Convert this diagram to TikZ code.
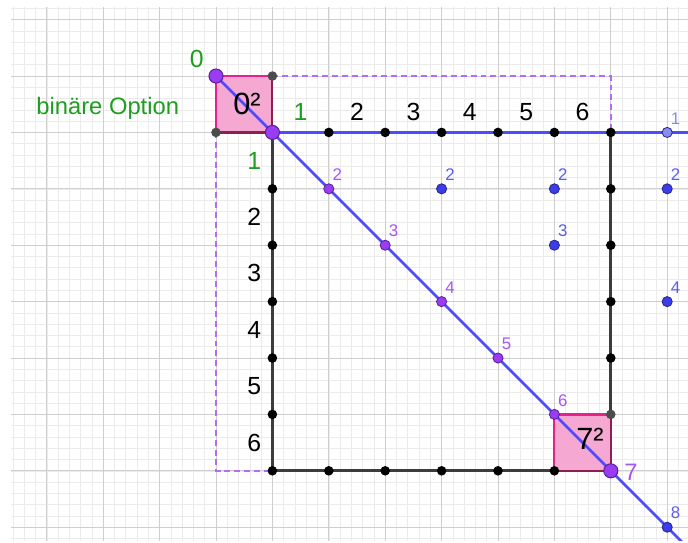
\documentclass[tikz,border=0pt]{standalone}
\usepackage{fontspec}
\setmainfont{Liberation Sans}
\usetikzlibrary{positioning, calc}
\definecolor{ggpurple}{HTML}{9A3CF2}
\definecolor{ggpurpled}{HTML}{5A1E96}
\definecolor{gglabel}{HTML}{A855F7}
\definecolor{ggblue}{HTML}{4B4BFF}
\definecolor{ggbluept}{HTML}{3C3CE8}
\definecolor{ggbluelbl}{HTML}{5C5CF2}
\definecolor{gglav}{HTML}{8A8AF0}
\definecolor{gggreen}{HTML}{1E9E1E}
\definecolor{sqfill}{HTML}{F5A8D2}
\definecolor{sqlight}{HTML}{E8208C}
\definecolor{sqdark}{HTML}{8C2050}
\definecolor{gridmaj}{HTML}{CFCFCF}
\definecolor{gridmin}{HTML}{EBEBEB}
\definecolor{linegray}{HTML}{3C3C3C}
\tikzset{
  % Punkte
  bigpt/.style={circle, draw=ggpurpled, fill=ggpurple, line width=0.5pt,
    minimum size=0.25cm, inner sep=0pt},
  diagpt/.style={circle, draw=ggpurpled, fill=ggpurple, line width=0.4pt,
    minimum size=0.18cm, inner sep=0pt},
  bluept/.style={circle, draw=ggbluept!60!black, fill=ggbluept, line width=0.4pt,
    minimum size=0.18cm, inner sep=0pt},
  lavpt/.style={bluept, fill=gglav},
  blackpt/.style={circle, fill=black, minimum size=0.17cm, inner sep=0pt},
  graypt/.style={blackpt, fill=black!70},
  % Linien
  blueline/.style={line width=1.4pt, ggblue},
  blackline/.style={line width=1.4pt, linegray},
  dashline/.style={line width=0.8pt, ggpurple!75, dashed, dash pattern=on 3pt off 2pt},
  sqedge/.style={line width=1.1pt, sqlight},
  sqedgedark/.style={line width=1.1pt, sqdark},
  % Beschriftungen
  numlbl/.style={font=\fontsize{12.5}{14}\selectfont},
  grnlbl/.style={numlbl, text=gggreen},
  sqlbl/.style={font=\fontsize{15.5}{17}\selectfont},
  ptlbl/.style={font=\fontsize{8.5}{9}\selectfont, text=gglabel, xshift=0.15cm, yshift=0.25cm},
  bluelbl/.style={ptlbl, text=ggbluelbl},
}

\begin{document}
\begin{tikzpicture}
  \useasboundingbox (-3.83,1.348) rectangle (8.369,-8.28);
  % Gitter
  \begin{scope}
    \clip (-3.635,1.223) rectangle (8.369,-8.227);
    \draw[gridmin, line width=0.3pt, step=0.2] (-4,-9) grid (9,2);
    \draw[gridmaj, line width=0.5pt, step=1] (-4,-9) grid (9,2);
  \end{scope}
  \foreach \i in {0,...,8} \foreach \j in {0,...,8} \coordinate (p\i\j) at (\i,-\j);
  \coordinate (hend) at (8.369,-1);
  \coordinate (dend) at (8.6,-8.6);
  % Quadrate
  \fill[sqfill] (p00) rectangle (p11);
  \fill[sqfill] (p66) rectangle (p77);
  % gestrichelter Rahmen
  \draw[dashline] (p10) -- (p70) -- (p71);
  \draw[dashline] (p01) -- (p07) -- (p17);
  % Seiten
  \draw[blackline] (p11) -- (p17) -- (p67);
  \draw[blackline] (p71) -- (p76);
  \draw[sqedge] (p01) -- (p00) -- (p10);
  \draw[sqedgedark] (p10) -- (p11) -- (p01);
  \draw[sqedge] (p67) -- (p66) -- (p76);
  \draw[sqedgedark] (p76) -- (p77) -- (p67);
  \begin{scope}
    \clip (-3.635,1.223) rectangle (8.369,-8.227);
    \draw[blueline] (p11) -- (hend);
    \draw[blueline] (p00) -- (dend);
  \end{scope}
  \node[sqlbl] (q0) at (0.55,-0.49) {0²};
  \node[sqlbl] (q7) at (6.63,-6.44) {7²};
  % Beschriftungen
  \node[grnlbl] (z0) at (-0.34,0.30) {0};
  \node[grnlbl, font=\fontsize{12}{14}\selectfont, anchor=base] (opt) at (-1.92,-0.69) {binäre Option};
  \node[grnlbl] (h1) at (1.5,-0.64) {1};
  \node[grnlbl] (v1) at (0.68,-1.5) {1};
  \foreach \k in {2,...,6} {
    \node[numlbl] (h\k) at (\k+0.5,-0.64) {\k};
    \node[numlbl] (v\k) at (0.68,-\k-0.5) {\k};
  }
  \node[numlbl, text=gglabel, font=\fontsize{12}{13}\selectfont] (z7) at (7.36,-7.02) {7};
  % Punkte
  \foreach \i in {2,...,7} \node[blackpt] (t\i) at (p\i1) {};
  \foreach \j in {2,...,7} \node[blackpt] (l\j) at (p1\j) {};
  \foreach \i in {2,...,6} \node[blackpt] (u\i) at (p\i7) {};
  \foreach \j in {2,...,5} \node[blackpt] (r\j) at (p7\j) {};
  \node[graypt] (c10) at (p10) {};
  \node[graypt] (c01) at (p01) {};
  \node[graypt] (c76) at (p76) {};
  \foreach \k in {2,...,6} {
    \node[diagpt] (d\k) at (p\k\k) {};
    \node[ptlbl] (dl\k) at (p\k\k) {\k};
  }
  \node[bigpt] (A) at (p00) {};
  \node[bigpt] (B) at (p11) {};
  \node[bigpt] (C) at (p77) {};
  \foreach \x/\y in {4/2, 6/2, 6/3, 8/2, 8/4, 8/8} {
    \node[bluept] (b\x\y) at (p\x\y) {};
    \node[bluelbl] (bl\x\y) at (p\x\y) {\y};
  }
  \node[lavpt] (b81) at (p81) {};
  \node[bluelbl, text=gglav] (bl81) at (p81) {1};
\end{tikzpicture}
\end{document}
